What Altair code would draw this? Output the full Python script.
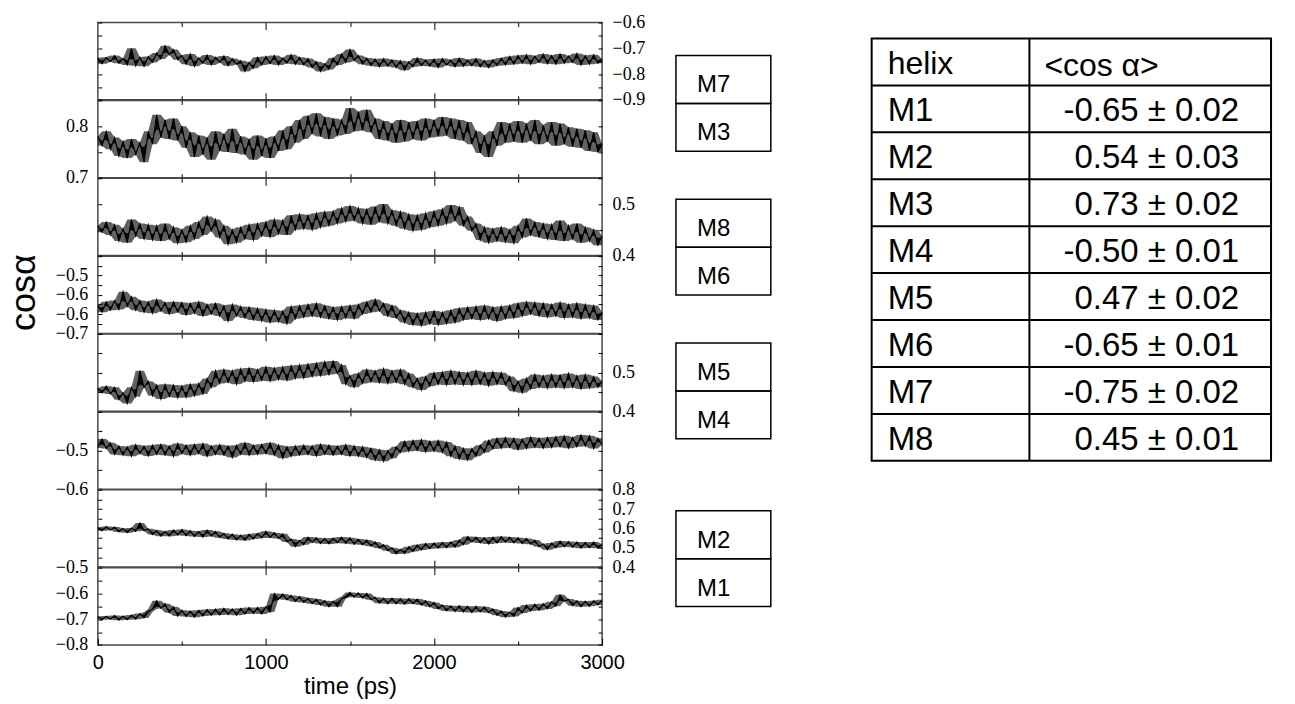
import altair as alt
import pandas as pd

# ---------------- data (in units of 0.001) ----------------
STEP_PS = 25  # sampling step of the read-off traces (ps)

M7 = [-738, -760, -735, -752, -728, -758, -740, -765, -700, -768,
      -735, -770, -732, -755, -718, -742, -690, -725, -705, -745,
      -728, -762, -722, -770, -738, -758, -726, -765, -735, -755,
      -730, -768, -740, -762, -748, -790, -755, -778, -735, -765,
      -732, -760, -728, -765, -738, -758, -725, -762, -735, -765,
      -740, -775, -752, -790, -760, -782, -738, -765, -722, -755,
      -705, -748, -728, -762, -738, -768, -742, -772, -740, -770,
      -745, -775, -748, -785, -752, -772, -738, -768, -745, -770,
      -742, -775, -740, -765, -745, -772, -738, -770, -745, -768,
      -740, -772, -748, -775, -745, -768, -738, -765, -732, -762,
      -728, -758, -725, -762, -730, -755, -722, -760, -728, -762,
      -722, -758, -730, -755, -720, -765, -728, -762, -725, -758,
      -742]

M3 = [780, 762, 790, 755, 778, 742, 770, 738, 775, 745,
      768, 730, 790, 765, 822, 778, 812, 775, 815, 772,
      800, 758, 788, 740, 782, 745, 778, 735, 790, 752,
      785, 750, 795, 748, 780, 745, 775, 735, 782, 742,
      776, 738, 780, 752, 792, 755, 800, 768, 812, 775,
      820, 785, 825, 780, 818, 775, 815, 782, 812, 785,
      835, 790, 828, 792, 832, 788, 815, 775, 810, 772,
      805, 768, 812, 770, 808, 775, 810, 772, 815, 778,
      812, 780, 818, 782, 815, 775, 812, 772, 808, 765,
      790, 748, 782, 740, 790, 762, 808, 768, 805, 770,
      810, 768, 805, 772, 812, 765, 802, 770, 808, 762,
      805, 765, 798, 760, 795, 758, 792, 752, 788, 750,
      765]

M8 = [458, 445, 465, 440, 460, 428, 452, 425, 470, 438,
      462, 432, 460, 430, 458, 428, 462, 432, 455, 424,
      450, 426, 458, 432, 465, 440, 476, 448, 470, 435,
      458, 422, 450, 425, 455, 432, 460, 430, 462, 438,
      465, 436, 470, 442, 468, 440, 478, 450, 480, 452,
      478, 450, 482, 455, 485, 458, 486, 462, 492, 466,
      496, 468, 492, 462, 490, 460, 495, 465, 500, 462,
      488, 458, 485, 452, 480, 448, 478, 450, 482, 455,
      486, 458, 490, 462, 498, 468, 494, 458, 476, 448,
      462, 430, 455, 425, 452, 428, 455, 426, 450, 424,
      458, 435, 472, 440, 465, 436, 462, 432, 460, 430,
      468, 428, 458, 432, 462, 425, 455, 428, 450, 420,
      438]

M6 = [-628, -645, -618, -640, -615, -638, -592, -630, -605, -640,
      -615, -645, -618, -648, -612, -642, -620, -650, -618, -645,
      -620, -652, -622, -648, -618, -655, -625, -650, -622, -655,
      -628, -668, -625, -655, -630, -660, -632, -665, -635, -668,
      -638, -672, -640, -670, -642, -675, -630, -662, -628, -658,
      -625, -655, -622, -658, -628, -662, -632, -665, -630, -660,
      -628, -662, -625, -650, -618, -645, -612, -642, -622, -655,
      -628, -660, -640, -672, -645, -678, -648, -680, -645, -675,
      -642, -678, -645, -675, -640, -672, -635, -665, -632, -662,
      -630, -665, -628, -662, -632, -668, -630, -662, -628, -660,
      -622, -655, -618, -650, -620, -655, -622, -658, -625, -655,
      -620, -660, -625, -658, -622, -662, -625, -660, -628, -665,
      -645]

M5 = [460, 448, 465, 445, 462, 430, 448, 420, 462, 438,
      505, 462, 478, 440, 468, 432, 470, 438, 468, 435,
      466, 436, 470, 440, 472, 445, 485, 462, 505, 472,
      508, 475, 505, 470, 510, 478, 512, 476, 508, 480,
      515, 478, 512, 482, 515, 480, 518, 485, 520, 486,
      522, 490, 525, 492, 528, 495, 530, 498, 520, 470,
      492, 462, 498, 472, 508, 476, 505, 474, 510, 472,
      505, 475, 508, 470, 498, 462, 485, 455, 490, 465,
      500, 470, 502, 468, 505, 470, 502, 468, 500, 468,
      505, 470, 500, 466, 502, 470, 500, 468, 490, 452,
      478, 448, 485, 458, 495, 462, 492, 460, 495, 462,
      494, 460, 498, 462, 492, 458, 495, 460, 490, 462,
      478]

M4 = [-492, -470, -495, -480, -510, -488, -512, -490, -515, -485,
      -508, -488, -514, -486, -510, -484, -512, -488, -515, -482,
      -508, -486, -512, -484, -508, -482, -515, -488, -510, -485,
      -512, -488, -518, -486, -510, -480, -512, -486, -510, -484,
      -508, -480, -512, -486, -520, -490, -515, -488, -512, -486,
      -510, -488, -514, -484, -510, -486, -512, -488, -510, -485,
      -514, -488, -515, -490, -518, -494, -525, -498, -528, -500,
      -520, -490, -505, -476, -502, -474, -500, -472, -504, -476,
      -502, -474, -505, -478, -515, -488, -522, -494, -525, -495,
      -515, -486, -505, -474, -496, -468, -494, -466, -492, -468,
      -498, -470, -495, -465, -492, -468, -494, -466, -492, -464,
      -490, -462, -494, -466, -490, -460, -488, -462, -495, -468,
      -485]

M2 = [605, 588, 610, 592, 608, 582, 600, 578, 602, 585,
      628, 588, 598, 568, 590, 560, 585, 560, 592, 565,
      595, 562, 588, 558, 585, 555, 592, 560, 585, 552,
      575, 545, 570, 540, 565, 538, 570, 545, 575, 550,
      585, 552, 578, 548, 572, 530, 545, 505, 538, 515,
      555, 528, 552, 522, 548, 520, 550, 525, 555, 522,
      552, 518, 545, 515, 540, 508, 530, 498, 515, 485,
      500, 468, 492, 470, 505, 480, 515, 488, 522, 495,
      525, 498, 528, 500, 530, 502, 540, 515, 558, 530,
      555, 525, 552, 520, 555, 525, 558, 528, 555, 525,
      552, 522, 548, 518, 540, 505, 520, 490, 525, 500,
      535, 505, 532, 502, 530, 498, 528, 500, 530, 498,
      518]

M1 = [-690, -702, -688, -700, -686, -704, -688, -702, -684, -700,
      -678, -695, -672, -660, -628, -658, -640, -675, -652, -688,
      -665, -690, -668, -692, -665, -688, -662, -685, -660, -684,
      -658, -682, -660, -685, -658, -680, -655, -678, -655, -680,
      -652, -672, -600, -622, -602, -625, -608, -632, -612, -635,
      -618, -640, -622, -645, -628, -652, -630, -652, -620, -612,
      -596, -615, -598, -618, -600, -625, -615, -638, -618, -640,
      -618, -640, -620, -642, -620, -640, -622, -645, -628, -652,
      -635, -660, -645, -668, -648, -670, -648, -672, -650, -674,
      -650, -672, -652, -675, -660, -685, -668, -692, -672, -690,
      -655, -676, -645, -668, -642, -665, -640, -660, -632, -650,
      -605, -630, -622, -648, -628, -652, -630, -650, -628, -645,
      -625]

SERIES = {"M7": M7, "M3": M3, "M8": M8, "M6": M6,
          "M5": M5, "M4": M4, "M2": M2, "M1": M1}
PANELS = ["M7", "M3", "M8", "M6", "M5", "M4", "M2", "M1"]

Y_DOMAIN = {"M7": [-0.9, -0.6], "M3": [0.7, 0.85], "M8": [0.4, 0.55],
            "M6": [-0.7, -0.5], "M5": [0.4, 0.6], "M4": [-0.6, -0.4],
            "M2": [0.4, 0.8], "M1": [-0.8, -0.5]}
Y_TICKS = {"M7": [-0.9, -0.85, -0.8, -0.75, -0.7, -0.65, -0.6],
           "M3": [0.7, 0.75, 0.8, 0.85],
           "M8": [0.4, 0.45, 0.5, 0.55],
           "M6": [-0.7, -0.675, -0.65, -0.625, -0.6, -0.575, -0.55, -0.525, -0.5],
           "M5": [0.4, 0.45, 0.5, 0.55, 0.6],
           "M4": [-0.6, -0.55, -0.5, -0.45, -0.4],
           "M2": [0.4, 0.45, 0.5, 0.55, 0.6, 0.65, 0.7, 0.75, 0.8],
           "M1": [-0.8, -0.75, -0.7, -0.65, -0.6, -0.55, -0.5]}
Y_LABEL_SIDE = {"M7": "right", "M3": "left", "M8": "right", "M6": "left",
                "M5": "right", "M4": "left", "M2": "right", "M1": "left"}
Y_LABEL_VALUES = {"M7": [-0.6, -0.7, -0.8, -0.9], "M3": [0.8, 0.7],
                  "M8": [0.5, 0.4], "M6": [-0.55, -0.6, -0.65, -0.7],
                  "M5": [0.5, 0.4], "M4": [-0.5, -0.6],
                  "M2": [0.8, 0.7, 0.6, 0.5, 0.4], "M1": [-0.5, -0.6, -0.7, -0.8]}
Y_LABEL_TEXT = {"M7": ["\u22120.6", "\u22120.7", "\u22120.8", "\u22120.9"],
                "M3": ["0.8", "0.7"],
                "M8": ["0.5", "0.4"],
                "M6": ["\u22120.5", "\u22120.6", "\u22120.6", "\u22120.7"],
                "M5": ["0.5", "0.4"],
                "M4": ["\u22120.5", "\u22120.6"],
                "M2": ["0.8", "0.7", "0.6", "0.5", "0.4"],
                "M1": ["\u22120.5", "\u22120.6", "\u22120.7", "\u22120.8"]}

X_DOMAIN = [0, 3000]
X_MAJOR = [1000, 2000]
X_MINOR = [500, 1500, 2500]
X_LABELS = [0, 1000, 2000, 3000]
X_TITLE = "time (ps)"
Y_TITLE = "cos\u03b1"

BOX_PAIRS = [["M7", "M3"], ["M8", "M6"], ["M5", "M4"], ["M2", "M1"]]

TABLE_HEADER = ["helix", "<cos \u03b1>"]
TABLE_HELIX = ["M1", "M2", "M3", "M4", "M5", "M6", "M7", "M8"]
TABLE_MEAN = ["-0.65 \u00b1 0.02", "0.54 \u00b1 0.03", "0.73 \u00b1 0.02",
              "-0.50 \u00b1 0.01", "0.47 \u00b1 0.02", "-0.65 \u00b1 0.01",
              "-0.75 \u00b1 0.02", "0.45 \u00b1 0.01"]

# ---------------- layout constants (pixels) ----------------
OX, OY = 97, 21            # top-left of the plot column on the page
PW, PH = 505, 77.4         # size of one strip
CANVAS_W, CANVAS_H = 1295, 704
BOX_X0, BOX_X1, BOX_TEXT_X = 676, 771, 697
BOX_TOPS = [54, 198, 342, 510]
BOX_CELL_H = 48
TAB_X0, TAB_XC, TAB_X1 = 872, 1030, 1272
TAB_Y0, TAB_ROW_H = 37, 47
TAB_TEXT1_X, TAB_TEXT2_X, TAB_VAL_RIGHT = 888, 1045, 1240

SANS = "Liberation Sans"
SERIF = "Liberation Serif"
ONE = pd.DataFrame({"k": [0]})


def label_expr(vals, texts):
    expr = "''"
    for v, s in reversed(list(zip(vals, texts))):
        expr = f"datum.value == {v!r} ? '{s}' : {expr}"
    return expr


def y_axis(name, orient, with_title=False):
    show = Y_LABEL_SIDE[name] == orient
    kw = dict(orient=orient, values=Y_TICKS[name], tickSize=4, offset=-4,
              domain=False, grid=False, ticks=True, tickColor="black",
              tickWidth=1, labels=show, labelOverlap=False, labelFlush=False,
              title=None)
    if show:
        kw.update(labelExpr=label_expr(Y_LABEL_VALUES[name], Y_LABEL_TEXT[name]),
                  labelFont=SERIF, labelFontSize=18, labelColor="black",
                  labelPadding=10)
    if with_title:
        kw.update(title=Y_TITLE, titleFont=SANS, titleFontSize=36,
                  titleFontWeight="normal", titleColor="black",
                  titlePadding=13, titleY=36)
    return alt.Axis(**kw)


def x_axis(orient, values, size, labels=False, title=False):
    kw = dict(orient=orient, values=values, tickSize=size, offset=-size,
              domain=False, grid=False, ticks=True, tickColor="black",
              tickWidth=1, labels=labels, labelFlush=False,
              labelOverlap=False, title=None)
    if labels:
        kw.update(format="d", labelFont=SANS, labelFontSize=20,
                  labelColor="black", labelPadding=8)
    if title:
        kw.update(title=X_TITLE, titleFont=SANS, titleFontSize=24,
                  titleFontWeight="normal", titleColor="black", titlePadding=2)
    return alt.Axis(**kw)


def vrect(x0, y0, x1, y1, sw):
    return alt.Chart(ONE).mark_rect(filled=False, stroke="black", strokeWidth=sw).encode(
        x=alt.value(x0 - OX), x2=alt.value(x1 - OX),
        y=alt.value(y0 - OY), y2=alt.value(y1 - OY))


def vrule(x0, y0, x1, y1, sw):
    return alt.Chart(ONE).mark_rule(color="black", strokeWidth=sw).encode(
        x=alt.value(x0 - OX), x2=alt.value(x1 - OX),
        y=alt.value(y0 - OY), y2=alt.value(y1 - OY))


def vtext(txt, x, y, size, align="left"):
    return alt.Chart(ONE).mark_text(text=txt, align=align, baseline="alphabetic",
                                    font=SANS, fontSize=size, color="black").encode(
        x=alt.value(x - OX), y=alt.value(y - OY))


def decorations():
    layers = [alt.Chart(ONE).mark_rect(opacity=0).encode(
        x=alt.value(-OX), x2=alt.value(CANVAS_W - OX),
        y=alt.value(-OY), y2=alt.value(CANVAS_H - OY))]
    # helix pair boxes
    for k, pair in enumerate(BOX_PAIRS):
        for j, lab in enumerate(pair):
            y0 = BOX_TOPS[k] + j * BOX_CELL_H
            layers.append(vrect(BOX_X0, y0, BOX_X1, y0 + BOX_CELL_H, 1.5))
            layers.append(vtext(lab, BOX_TEXT_X, y0 + 37, 24))
    # table
    n_rows = len(TABLE_HELIX) + 1
    y_bottom = TAB_Y0 + n_rows * TAB_ROW_H
    layers.append(vrect(TAB_X0, TAB_Y0, TAB_X1, y_bottom, 2))
    layers.append(vrule(TAB_XC, TAB_Y0, TAB_XC, y_bottom, 2))
    for r in range(1, n_rows):
        yy = TAB_Y0 + r * TAB_ROW_H
        layers.append(vrule(TAB_X0, yy, TAB_X1, yy, 2))
    layers.append(vtext(TABLE_HEADER[0], TAB_TEXT1_X, TAB_Y0 + 36, 32))
    layers.append(vtext(TABLE_HEADER[1], TAB_TEXT2_X, TAB_Y0 + 38, 32))
    for r, (h, m) in enumerate(zip(TABLE_HELIX, TABLE_MEAN)):
        base = TAB_Y0 + (r + 1) * TAB_ROW_H + 36
        layers.append(vtext(h, TAB_TEXT1_X, base, 33))
        layers.append(vtext(m, TAB_VAL_RIGHT, base, 33, align="right"))
    return layers


def panel(i, name):
    vals = SERIES[name]
    df = pd.DataFrame({"t": [STEP_PS * k for k in range(len(vals))],
                       "v": [v / 1000 for v in vals]})
    xs = alt.Scale(domain=X_DOMAIN, nice=False, zero=False)
    ys = alt.Scale(domain=Y_DOMAIN[name], nice=False, zero=False)
    last = i == len(PANELS) - 1
    base = alt.Chart(df)
    # dark envelope of the read trace
    band = base.transform_window(
        lo="min(v)", hi="max(v)", frame=[-1, 1], sort=[alt.SortField("t")]
    ).mark_area(color="black", opacity=0.62, interpolate="linear").encode(
        x=alt.X("t:Q", scale=xs, axis=None),
        y=alt.Y("lo:Q", scale=ys, axis=None),
        y2="hi:Q")
    # black spikes between the trace and its running mean
    spikes = base.transform_window(
        mid="mean(v)", frame=[-2, 2], sort=[alt.SortField("t")]
    ).mark_area(color="black", opacity=0.95, interpolate="linear").encode(
        x=alt.X("t:Q", scale=xs, axis=None),
        y=alt.Y("v:Q", scale=ys, axis=None),
        y2="mid:Q")
    line = base.mark_line(color="black", strokeWidth=1.1).encode(
        x=alt.X("t:Q", scale=xs,
                axis=x_axis("bottom", X_LABELS if last else X_MAJOR, 7,
                            labels=last, title=last)),
        y=alt.Y("v:Q", scale=ys, axis=y_axis(name, "left", with_title=(name == "M6"))))
    edge = pd.DataFrame({"t": X_DOMAIN, "v": Y_DOMAIN[name]})
    ghost = alt.Chart(edge).mark_point(opacity=0)
    l2 = ghost.encode(x=alt.X("t:Q", scale=xs, axis=x_axis("top", X_MAJOR, 7)),
                      y=alt.Y("v:Q", scale=ys, axis=y_axis(name, "right")))
    l3 = ghost.encode(x=alt.X("t:Q", scale=xs, axis=x_axis("bottom", X_MINOR, 4)),
                      y=alt.Y("v:Q", scale=ys, axis=None))
    l4 = ghost.encode(x=alt.X("t:Q", scale=xs, axis=x_axis("top", X_MINOR, 4)),
                      y=alt.Y("v:Q", scale=ys, axis=None))
    layers = [line, band, spikes, l2, l3, l4]
    if i == 0:
        layers += decorations()
    return alt.layer(*layers).resolve_axis(x="independent", y="independent").properties(
        width=PW, height=PH)


panels = [panel(i, n) for i, n in enumerate(PANELS)]
chart = alt.vconcat(*panels, spacing=0, bounds="flush").properties(
    padding=0, background="white"
).configure(font=SANS).configure_view(stroke="#4a4a4a", strokeWidth=1.5)

chart.save("out.html", embed_options={"renderer": "svg", "actions": False})
